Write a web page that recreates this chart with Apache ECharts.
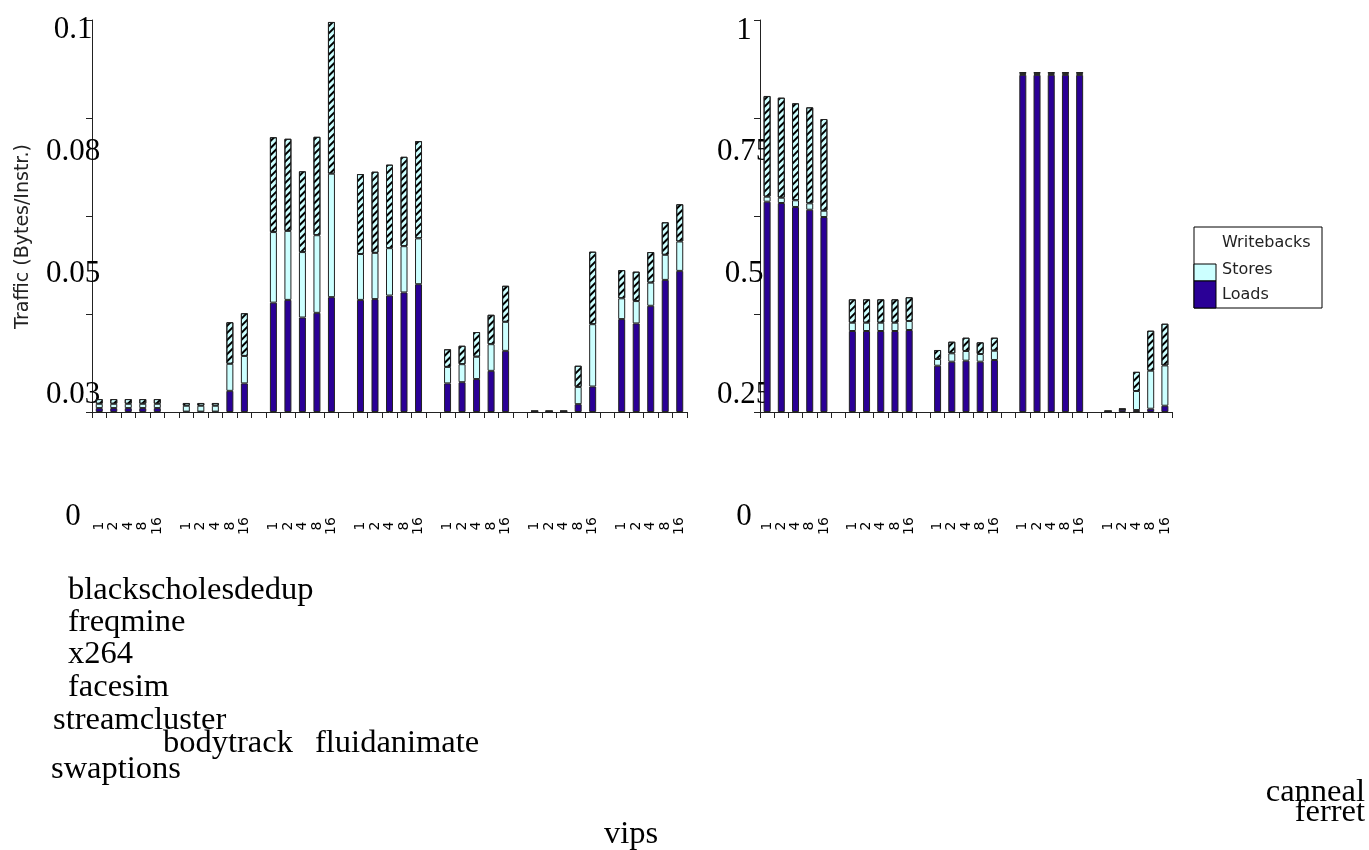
<!DOCTYPE html>
<html>
<head>
<meta charset="utf-8">
<script src="https://cdn.jsdelivr.net/npm/echarts@6/dist/echarts.min.js"></script>
<style>
html,body{margin:0;padding:0;background:#fff;}
#chart{width:1369px;height:850px;}
</style>
</head>
<body>
<div id="chart"></div>
<script>
// ---------- data ----------
const threads = ['1', '2', '4', '8', '16'];
const seriesNames = ['Loads', 'Stores', 'Writebacks'];
const groupNames = ['blackscholes', 'dedup', 'freqmine', 'x264', 'facesim', 'streamcluster',
  'bodytrack', 'fluidanimate', 'swaptions', 'canneal', 'ferret', 'vips'];
const leftTickLabels = ['0', '0.03', '0.05', '0.08', '0.1'];
const rightTickLabels = ['0', '0.25', '0.5', '0.75', '1'];

// left panel: 7 groups x 5 thread counts
const leftLoads = [
  0.0010, 0.0010, 0.0010, 0.0010, 0.0010,
  0.0001, 0.0001, 0.0001, 0.0054, 0.0073,
  0.0279, 0.0286, 0.0241, 0.0253, 0.0293,
  0.0286, 0.0288, 0.0297, 0.0305, 0.0326,
  0.0073, 0.0076, 0.0084, 0.0105, 0.0156,
  0.0002, 0.0002, 0.0002, 0.0020, 0.0065,
  0.0237, 0.0226, 0.0271, 0.0337, 0.0360
];
const leftStores = [
  0.0011, 0.0011, 0.0011, 0.0011, 0.0011,
  0.0015, 0.0015, 0.0015, 0.0069, 0.0070,
  0.0180, 0.0176, 0.0167, 0.0198, 0.0315,
  0.0117, 0.0118, 0.0121, 0.0118, 0.0117,
  0.0042, 0.0046, 0.0057, 0.0068, 0.0074,
  0.0000, 0.0000, 0.0000, 0.0044, 0.0159,
  0.0053, 0.0057, 0.0059, 0.0064, 0.0075
];
const leftWritebacks = [
  0.0012, 0.0012, 0.0012, 0.0012, 0.0012,
  0.0007, 0.0007, 0.0007, 0.0106, 0.0109,
  0.0242, 0.0235, 0.0206, 0.0251, 0.0387,
  0.0204, 0.0207, 0.0213, 0.0228, 0.0248,
  0.0045, 0.0047, 0.0063, 0.0075, 0.0092,
  0.0000, 0.0000, 0.0000, 0.0054, 0.0185,
  0.0072, 0.0075, 0.0078, 0.0083, 0.0095
];

// right panel: 5 groups x 5 thread counts
const rightLoads = [
  0.5365, 0.5332, 0.5230, 0.5160, 0.4974,
  0.2066, 0.2066, 0.2066, 0.2066, 0.2092,
  0.1181, 0.1283, 0.1309, 0.1283, 0.1327,
  0.8600, 0.8600, 0.8600, 0.8600, 0.8600,
  0.0020, 0.0060, 0.0050, 0.0084, 0.0160
];
const rightStores = [
  0.0128, 0.0135, 0.0171, 0.0163, 0.0161,
  0.0212, 0.0212, 0.0212, 0.0212, 0.0230,
  0.0171, 0.0214, 0.0247, 0.0196, 0.0237,
  0.0030, 0.0030, 0.0030, 0.0030, 0.0030,
  0.0000, 0.0010, 0.0485, 0.0970, 0.1028
];
const rightWritebacks = [
  0.2569, 0.2551, 0.2474, 0.2449, 0.2339,
  0.0597, 0.0597, 0.0597, 0.0597, 0.0605,
  0.0230, 0.0296, 0.0339, 0.0298, 0.0332,
  0.0040, 0.0040, 0.0040, 0.0040, 0.0040,
  0.0000, 0.0010, 0.0490, 0.1020, 0.1064
];

// ---------- helpers ----------
function withGaps(arr) {            // insert an empty slot between groups of 5
  const out = [];
  arr.forEach((v, i) => {
    if (i > 0 && i % threads.length === 0) out.push(null);
    out.push(v);
  });
  return out;
}
function cats(nGroups) {
  const out = [];
  for (let g = 0; g < nGroups; g++) {
    if (g > 0) out.push('');
    threads.forEach(t => out.push(t));
  }
  return out;
}

const COLORS = { Loads: '#2a0096', Stores: '#ccffff', Writebacks: '#ccffff' };
// canvas pattern rotation is clockwise-positive: -45deg gives "/" stripes
const hatch = {
  symbol: 'rect', symbolSize: 1,
  dashArrayX: [1, 0], dashArrayY: [1.3, 2.1],
  rotation: -Math.PI / 4, color: '#000'
};
const SERIF = '"Liberation Serif", "Times New Roman", serif';
const SANS = '"DejaVu Sans", Verdana, sans-serif';

function barSeries(name, data, axisIdx) {
  const s = {
    name: name, type: 'bar', stack: 'p' + axisIdx,
    xAxisIndex: axisIdx, yAxisIndex: axisIdx,
    barWidth: 7, data: withGaps(data),
    itemStyle: { color: COLORS[name], borderColor: '#222', borderWidth: 1 },
    emphasis: { disabled: true }
  };
  if (name === 'Writebacks') s.itemStyle.decal = hatch;
  return s;
}

function catAxis(idx, nGroups) {
  return {
    type: 'category', gridIndex: idx, data: cats(nGroups),
    axisLine: { lineStyle: { color: '#222', width: 1 } },
    axisTick: { show: true, interval: 0, length: 6, lineStyle: { color: '#222' } },
    axisLabel: {
      interval: 0, rotate: 90, margin: 114, align: 'center', verticalAlign: 'middle',
      fontFamily: SANS, fontSize: 14, color: '#000'
    },
    splitLine: { show: false }
  };
}
function valAxis(idx, max) {
  return {
    type: 'value', gridIndex: idx, min: 0, max: max, interval: max / 4,
    axisLine: { show: true, lineStyle: { color: '#222', width: 1 } },
    axisTick: { show: true, length: 6, lineStyle: { color: '#222' } },
    axisLabel: { show: false },
    splitLine: { show: false }
  };
}
function labelAxis(idx, labels, margin) {
  return {
    type: 'value', gridIndex: idx, min: 0, max: labels.length - 1, interval: 1,
    axisLine: { show: false }, axisTick: { show: false }, splitLine: { show: false },
    axisLabel: {
      margin: margin, align: 'center', verticalAlign: 'middle',
      fontFamily: SERIF, fontSize: 31, color: '#000',
      formatter: v => labels[Math.round(v)]
    }
  };
}

// group-name text placement (x, y of text middle, alignment)
const nameLayout = [
  { text: groupNames[0] + groupNames[1], x: 68, y: 590, align: 'left' },
  { text: groupNames[2], x: 68, y: 622, align: 'left' },
  { text: groupNames[3], x: 68, y: 654, align: 'left' },
  { text: groupNames[4], x: 68, y: 687, align: 'left' },
  { text: groupNames[5], x: 53, y: 720, align: 'left' },
  { text: groupNames[6], x: 163, y: 743, align: 'left' },
  { text: groupNames[7], x: 315, y: 743, align: 'left' },
  { text: groupNames[8], x: 51, y: 769, align: 'left' },
  { text: groupNames[9], x: 1365, y: 792, align: 'right' },
  { text: groupNames[10], x: 1365, y: 812, align: 'right' },
  { text: groupNames[11], x: 604, y: 834, align: 'left' }
];

const graphics = nameLayout.map(n => ({
  type: 'text', x: n.x, y: n.y, silent: true,
  style: { text: n.text, font: '32.5px ' + SERIF, fill: '#000', align: n.align, verticalAlign: 'middle' }
}));
// y-axis title
graphics.push({
  type: 'text', x: 23, y: 236.5, rotation: Math.PI / 2, silent: true,
  style: { text: 'Traffic (Bytes/Instr.)', font: '19px ' + SANS, fill: '#222', align: 'center', verticalAlign: 'middle' }
});
// legend
graphics.push({ type: 'rect', shape: { x: 1194, y: 227, width: 128, height: 81 }, silent: true,
  style: { fill: '#fff', stroke: '#000', lineWidth: 1 } });
graphics.push({ type: 'rect', shape: { x: 1194, y: 264, width: 22, height: 17 }, silent: true,
  style: { fill: COLORS.Stores, stroke: '#000', lineWidth: 1 } });
graphics.push({ type: 'rect', shape: { x: 1194, y: 281, width: 22, height: 27 }, silent: true,
  style: { fill: COLORS.Loads, stroke: '#000', lineWidth: 1 } });
const legendRows = [[seriesNames[2], 243], [seriesNames[1], 270], [seriesNames[0], 294.5]];
legendRows.forEach(r => graphics.push({
  type: 'text', x: 1222, y: r[1], silent: true,
  style: { text: r[0], font: '16px ' + SANS, fill: '#222', align: 'left', verticalAlign: 'middle' }
}));

const chart = echarts.init(document.getElementById('chart'), null, { renderer: 'canvas' });
chart.setOption({
  animation: false,
  backgroundColor: '#fff',
  grid: [
    { left: 92, top: 20, width: 595, height: 392 },
    { left: 760, top: 20, width: 412, height: 392 },
    { left: 92, top: 30.3, width: 1, height: 486.7 },
    { left: 760, top: 30.5, width: 1, height: 486 }
  ],
  xAxis: [
    catAxis(0, 7),
    catAxis(1, 5),
    { type: 'value', gridIndex: 2, show: false },
    { type: 'value', gridIndex: 3, show: false }
  ],
  yAxis: [
    valAxis(0, 0.1),
    valAxis(1, 1),
    labelAxis(2, leftTickLabels, 19),
    labelAxis(3, rightTickLabels, 16)
  ],
  series: [
    barSeries('Loads', leftLoads, 0),
    barSeries('Stores', leftStores, 0),
    barSeries('Writebacks', leftWritebacks, 0),
    barSeries('Loads', rightLoads, 1),
    barSeries('Stores', rightStores, 1),
    barSeries('Writebacks', rightWritebacks, 1)
  ],
  graphic: graphics
});
</script>
</body>
</html>
